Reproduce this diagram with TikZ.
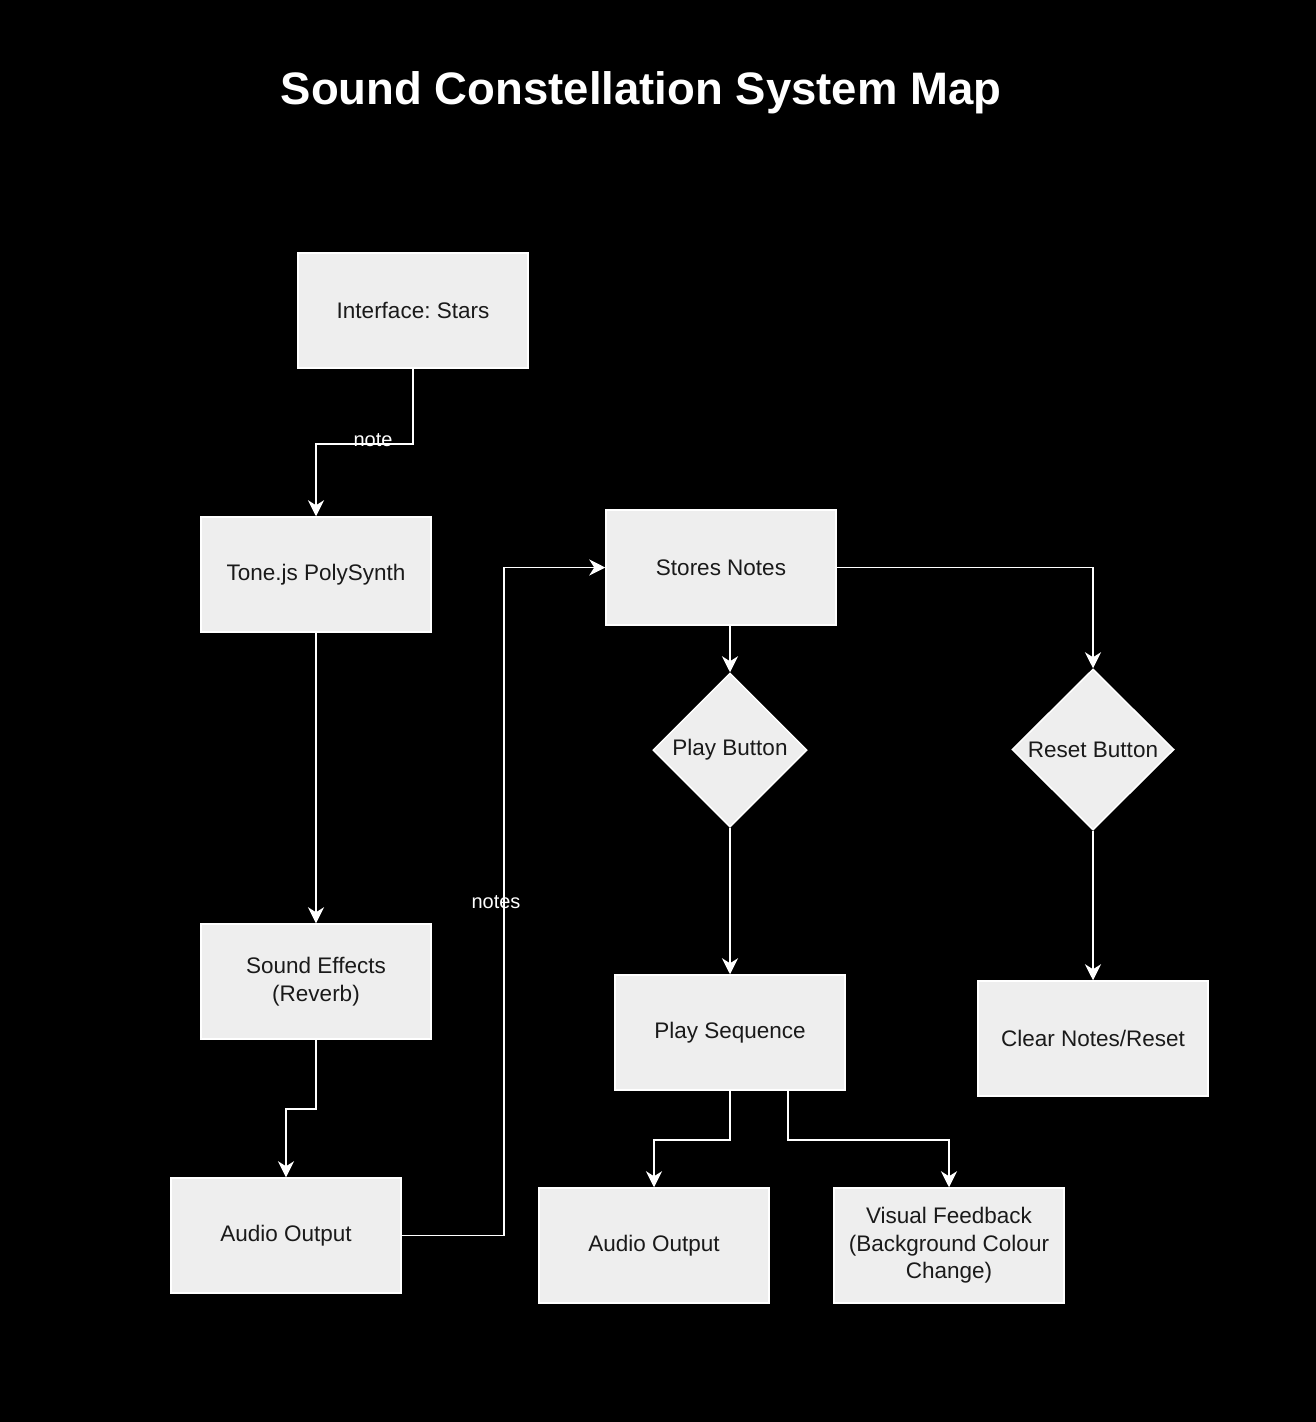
\documentclass[tikz,border=0pt]{standalone}
\usepackage{fontspec}
\setmainfont{Liberation Sans}
\usetikzlibrary{shapes.geometric,arrows.meta,calc}
\definecolor{boxfill}{HTML}{EEEEEE}
\definecolor{boxtext}{HTML}{1A1A1A}
\frenchspacing
\begin{document}
\begin{tikzpicture}[x=1pt,y=-1pt,
  box/.style={draw=white,line width=1.5pt,fill=boxfill,text=boxtext,minimum width=230pt,minimum height=115pt,inner sep=0pt,align=center,font=\fontsize{22.5}{27.5}\selectfont},
  dia/.style={diamond,draw=white,line width=1.5pt,fill=boxfill,text=boxtext,inner sep=0pt,aspect=1,font=\fontsize{22.5}{27.5}\selectfont},
  conn/.style={draw=white,line width=1.7pt,-{Stealth[length=16pt,width=16pt,inset=5pt]}},
  lbl/.style={text=white,font=\fontsize{20}{24}\selectfont,inner sep=0pt},
  ttl/.style={text=white,font=\fontsize{45.5}{52}\selectfont\bfseries,inner sep=0pt}]
\fill[black] (0,0) rectangle (1316,1422);
\useasboundingbox (0,0) rectangle (1316,1422);

\node[ttl] (title) at (641,93) {Sound Constellation System Map};

\node[box] (iface) at (413,310.5) {Interface: Stars};
\node[box] (tone) at (316,574.5) {\raisebox{-3pt}{Tone.js PolySynth}};
\node[box] (sfx) at (316,981.5) {Sound Effects\\(Reverb)};
\node[box] (aud1) at (286,1235.5) {\raisebox{-2pt}{Audio Output}};
\node[box] (stores) at (721,567.5) {Stores Notes};
\node[dia,minimum width=154pt,minimum height=154pt] (play) at (730,750) {\raisebox{-3pt}{Play Button}};
\node[dia,minimum width=162pt,minimum height=161pt] (reset) at (1093,749.5) {Reset Button};
\node[box] (seq) at (730,1032.5) {\raisebox{-3pt}{Play Sequence}};
\node[box] (clear) at (1093,1038.5) {Clear Notes/Reset};
\node[box] (aud2) at (654,1245.5) {\raisebox{-2pt}{Audio Output}};
\node[box] (vis) at (949,1245.5) {Visual Feedback\\(Background Colour\\Change)};

\draw[conn] (iface.south) -- ++(0,75) -| (tone.north);
\node[lbl] (lnote) at (373,440) {note};
\draw[conn] (tone.south) -- (sfx.north);
\draw[conn] (sfx.south) -- ++(0,69) -| (aud1.north);
\draw[conn] (aud1.east) -- ++(102,0) |- (stores.west);
\node[lbl] (lnotes) at (496,902) {notes};
\draw[conn] (stores.south -| play.north) -- (play.north);
\draw[conn] (stores.east) -| (reset.north);
\draw[conn] (play.south) -- (seq.north);
\draw[conn] (reset.south) -- (clear.north);
\draw[conn] (seq.south) -- ++(0,49) -| (aud2.north);
\draw[conn] ($(seq.south)+(58,0)$) -- ++(0,49) -| (vis.north);
\end{tikzpicture}
\end{document}
